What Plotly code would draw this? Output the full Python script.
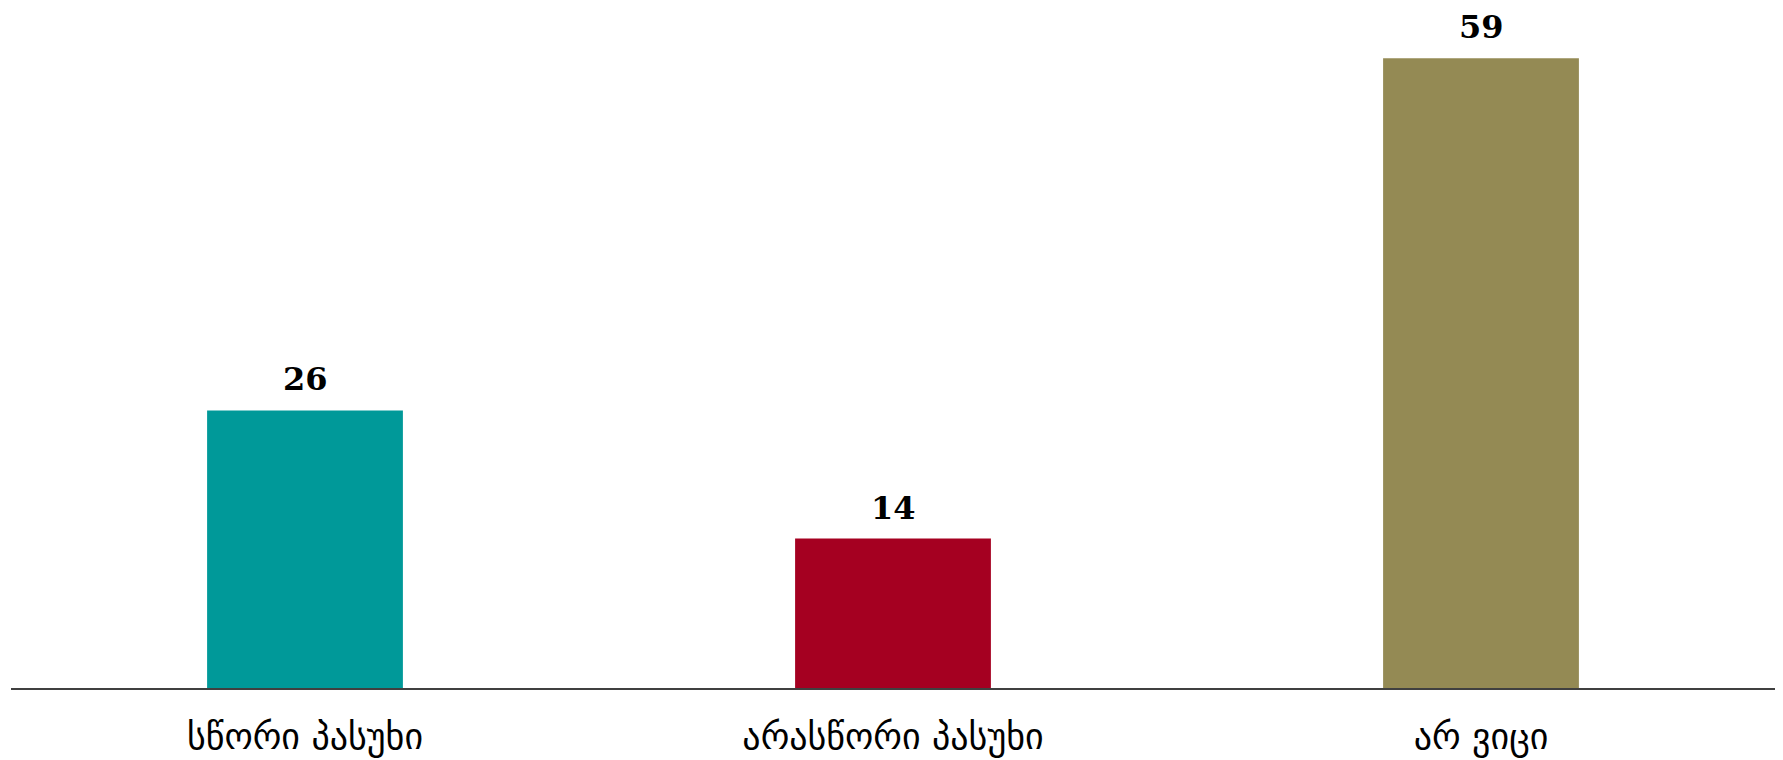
import plotly.graph_objects as go

categories = ["სწორი პასუხი", "არასწორი პასუხი", "არ ვიცი"]
values = [26, 14, 59]
colors = ["#009999", "#A50021", "#948A54"]

fig = go.Figure()
fig.add_trace(go.Bar(
    x=categories, y=values, marker=dict(color=colors, line=dict(width=0)),
    width=0.333, showlegend=False, hoverinfo="skip",
))
for c, v in zip(categories, values):
    fig.add_annotation(x=c, y=v, text=f"<b>{v}</b>", showarrow=False,
                       yanchor="bottom", yshift=10,
                       font=dict(family="DejaVu Serif", size=32, color="#000000"))

fig.update_layout(
    width=1783, height=760,
    margin=dict(l=3, r=16, t=0, b=80),
    plot_bgcolor="white", paper_bgcolor="white",
    bargap=0.667,
    xaxis=dict(showline=True, linecolor="#404040", linewidth=2,
               ticks="outside", ticklen=16, tickcolor="rgba(0,0,0,0)",
               tickfont=dict(family="DejaVu Sans", size=36, color="#000000"),
               showgrid=False, zeroline=False),
    yaxis=dict(range=[0, 63.7], visible=False, showgrid=False, zeroline=False),
)
fig.write_html("out.html")
